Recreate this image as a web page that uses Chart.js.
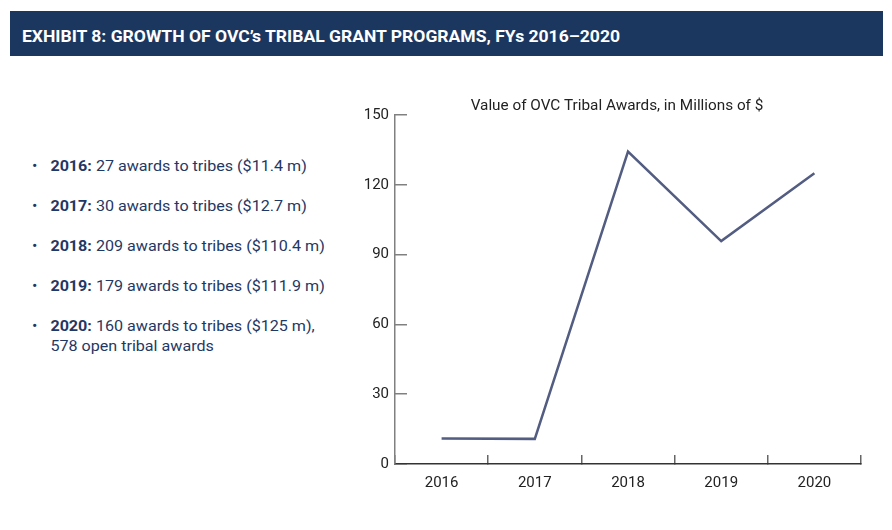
<!DOCTYPE html>
<html>
<head>
<meta charset="utf-8">
<script src="https://cdn.jsdelivr.net/npm/chart.js@4.4.0/dist/chart.umd.min.js"></script>
<style>
  html, body { margin: 0; padding: 0; background: #fff; }
  body { width: 892px; height: 530px; position: relative; overflow: hidden; font-family: Roboto, "Noto Sans", sans-serif; }
  #cabecera { position: absolute; left: 10px; top: 11px; width: 873px; height: 45px; background: #1c375f; }
  #titulo { position: absolute; left: 22px; top: 29px; font-size: 16px; line-height: 16px; font-weight: 700; color: #fff; white-space: nowrap; transform-origin: 0 0; }
  #lista { position: absolute; left: 32px; top: 156px; font-size: 14px; line-height: 20px; color: #1f3864; transform: scaleX(1.15); transform-origin: 0 0; }
  .item { position: relative; padding-left: 16px; margin-bottom: 20px; white-space: nowrap; }
  .item::before { content: "\2022"; position: absolute; left: 0; top: 0; }
  .item b { font-weight: 700; }
  #contenedor { position: absolute; left: 350px; top: 88px; width: 534px; height: 420px; }
</style>
</head>
<body>
<div id="cabecera"></div>
<span id="titulo">EXHIBIT 8: GROWTH OF OVC’s TRIBAL GRANT PROGRAMS, FYs 2016–2020</span>

<div id="lista">
  <div class="item"><b>2016:</b> 27 awards to tribes ($11.4 m)</div>
  <div class="item"><b>2017:</b> 30 awards to tribes ($12.7 m)</div>
  <div class="item"><b>2018:</b> 209 awards to tribes ($110.4 m)</div>
  <div class="item"><b>2019:</b> 179 awards to tribes ($111.9 m)</div>
  <div class="item"><b>2020:</b> 160 awards to tribes ($125 m),<br>578 open tribal awards</div>
</div>

<div id="contenedor"><canvas id="grafica"></canvas></div>

<script>
// Datos
const anios = ['2016', '2017', '2018', '2019', '2020'];
const valores = [11.0, 10.8, 134.3, 95.8, 125.0];
const marcasY = [0, 30, 60, 90, 120, 150];

// Ajustar el ancho del titulo (fuente condensada en el original)
function ajustarTitulo() {
  const t = document.getElementById('titulo');
  t.style.transform = 'none';
  const ancho = t.getBoundingClientRect().width;
  t.style.transform = 'scaleX(' + (598 / ancho) + ')';
}
ajustarTitulo();
if (document.fonts) document.fonts.ready.then(ajustarTitulo);

const ctx = document.getElementById('grafica').getContext('2d');
new Chart(ctx, {
  type: 'line',
  data: {
    labels: anios,
    datasets: [{
      label: 'Value of OVC Tribal Awards',
      data: valores,
      borderColor: '#535d82',
      borderWidth: 2.5,
      pointRadius: 0,
      tension: 0,
      fill: false
    }]
  },
  options: {
    responsive: true,
    maintainAspectRatio: false,
    animation: false,
    layout: { padding: 0 },
    plugins: {
      legend: { display: false },
      tooltip: { enabled: false },
      title: {
        display: true,
        text: 'Value of OVC Tribal Awards, in Millions of $',
        color: '#222',
        font: { family: 'Roboto', size: 15.3, weight: 'normal', lineHeight: 1 },
        padding: { top: 10, bottom: 1 }
      }
    },
    scales: {
      x: {
        offset: true,
        grid: {
          offset: true,
          drawOnChartArea: false,
          drawTicks: true,
          tickLength: -9,
          color: '#666',
          lineWidth: 1.5
        },
        border: { display: true, color: '#333', width: 1.5 },
        ticks: {
          color: '#222',
          font: { family: 'Roboto', size: 15 },
          padding: 19,
          maxRotation: 0
        },
        afterFit: function(scale) { scale.height = 44; }
      },
      y: {
        min: 0,
        max: 150,
        afterBuildTicks: function(scale) {
          scale.ticks = marcasY.map(v => ({ value: v }));
        },
        grid: {
          drawOnChartArea: false,
          drawTicks: true,
          tickLength: -12,
          color: '#808080',
          lineWidth: 1.5
        },
        border: { display: true, color: '#808080', width: 1.5 },
        ticks: {
          color: '#222',
          font: { family: 'Roboto', size: 15 },
          padding: 18
        },
        afterFit: function(scale) { scale.width = 45; }
      },
      // eje vacio a la derecha para centrar el titulo como en el original
      margen: {
        type: 'linear',
        position: 'right',
        grid: { display: false },
        border: { display: false },
        ticks: { display: false },
        afterFit: function(scale) { scale.width = 23; }
      }
    }
  }
});
</script>
</body>
</html>
